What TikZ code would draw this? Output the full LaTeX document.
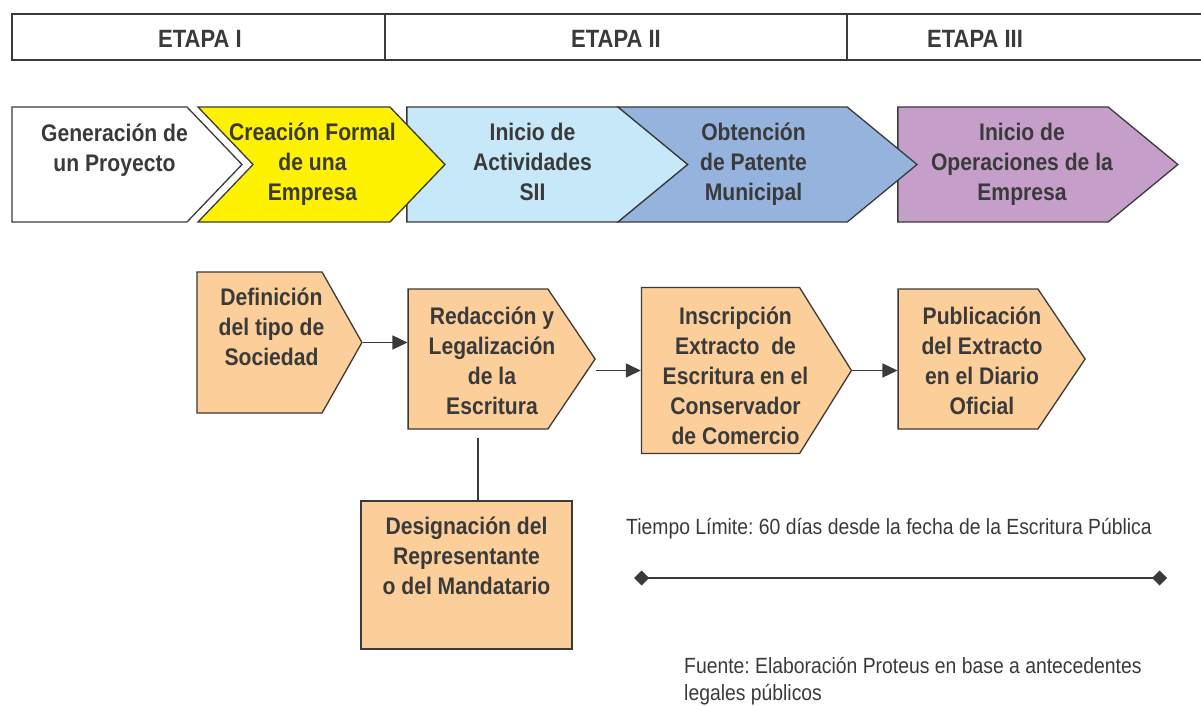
\documentclass[tikz,border=0pt]{standalone}
\usepackage{fontspec}
\newfontfamily\boxfont{Liberation Sans}[FakeStretch=0.88]
\usetikzlibrary{shapes.symbols,arrows.meta,positioning}

\definecolor{inkgray}{HTML}{3A3A3A}
\definecolor{crearyellow}{HTML}{FFF200}
\definecolor{siiblue}{HTML}{C6E8F8}
\definecolor{patblue}{HTML}{95B3DD}
\definecolor{opviolet}{HTML}{C59FC9}
\definecolor{pasoorange}{HTML}{FCCF9A}

% texto centrado, corrido #1 a la derecha
\newcommand{\rotulo}[2]{\begin{tabular}{@{\hspace{#1}}c@{\hspace{-#1}}}#2\end{tabular}}

\begin{document}
\frenchspacing
\begin{tikzpicture}[
    x=1pt, y=-1pt,
    every node/.style={text=inkgray},
    bigtxt/.style={font=\boxfont\bfseries\fontsize{24}{30}\selectfont},
    nota/.style={font=\boxfont\fontsize{22}{27}\selectfont, inner sep=0pt, align=left},
    etapa/.style={font=\boxfont\bfseries\fontsize{25}{30}\selectfont, inner sep=0pt},
    chevron/.style={signal, signal to=east, draw=inkgray, line width=1.3pt,
      inner sep=0pt, minimum height=115pt, bigtxt},
    paso/.style={chevron, fill=pasoorange},
    pasobox/.style={rectangle, draw=inkgray, fill=pasoorange, line width=1.3pt,
      inner sep=0pt, align=center, bigtxt},
    flecha/.style={draw=inkgray, line width=1.5pt, -{Triangle[length=15pt,width=14pt]}},
    enlace/.style={draw=inkgray, line width=1.5pt},
    plazo/.style={draw=inkgray, line width=1.5pt,
      {Diamond[length=15pt,width=15pt]}-{Diamond[length=15pt,width=15pt]}}
  ]
    \useasboundingbox (0,0) rectangle (1201,706);

    % Barra de etapas
    \draw[inkgray, line width=2pt] (1201,14) -- (12,14) -- (12,60) -- (1201,60);
    \draw[inkgray, line width=1.5pt] (385,14) -- (385,60);
    \draw[inkgray, line width=1.5pt] (847,14) -- (847,60);
    \node[etapa] (etapaI) at (200,39) {ETAPA I};
    \node[etapa] (etapaII) at (616,39) {ETAPA II};
    \node[etapa] (etapaIII) at (975,39) {ETAPA III};

    % Fila de procesos
    \node[chevron, fill=siiblue, signal pointer angle=79, minimum width=281pt]
      (sii) at (512.5,164.5) {\rotulo{20pt}{Inicio de\\Actividades\\SII}};
    \node[chevron, fill=opviolet, signal pointer angle=79, minimum width=280pt]
      (opera) at (1003,164.5) {\rotulo{19pt}{Inicio de\\Operaciones de la\\Empresa}};
    \node[chevron, fill=white, signal pointer angle=92.5, minimum width=230pt]
      (gen) at (99.5,164.5) {\rotulo{15pt}{Generación de\\un Proyecto\\[-2pt]\mbox{}}};
    \node[chevron, fill=crearyellow, signal from=west, signal pointer angle=92.5,
      inner xsep=-16pt, minimum width=247pt]
      (crear) at (321.5,164.5) {\rotulo{-9pt}{Creación Formal\\de una\\Empresa}};
    \node[chevron, fill=patblue, signal from=west, signal pointer angle=79, minimum width=299pt]
      (patente) at (767.5,164.5) {\rotulo{-14pt}{Obtención\\de Patente\\Municipal}};

    % Pasos de la creacion formal
    \node[paso, signal pointer angle=121, minimum height=141pt, minimum width=165pt]
      (tipo) at (259.5,342.5) {\rotulo{12pt}{Definición\\del tipo de\\Sociedad\\[-3pt]\mbox{}}};
    \node[paso, signal pointer angle=112, minimum height=140pt, minimum width=187pt]
      (escritura) at (478,359) {\rotulo{14pt}{\mbox{}\\[-22pt]Redacción y\\Legalización\\de la\\Escritura}};
    \node[paso, signal pointer angle=116, minimum height=165pt, minimum width=210pt]
      (inscripcion) at (720.5,370.5) {\rotulo{15pt}{\mbox{}\\[-14pt]Inscripción\\Extracto~ de\\Escritura en el\\Conservador\\de Comercio}};
    \node[paso, signal pointer angle=112, minimum height=140pt, minimum width=187pt]
      (publicacion) at (968,359) {\rotulo{14pt}{\mbox{}\\[-22pt]Publicación\\del Extracto\\en el Diario\\Oficial}};
    \node[pasobox, minimum width=211pt, minimum height=148pt]
      (mandatario) at (466.5,575) {Designación del\\Representante\\o del Mandatario\\[8pt]\mbox{}};

    \draw[flecha] (tipo.east) -- (tipo.east -| escritura.west);
    \draw[flecha] (escritura.east |- inscripcion) -- (inscripcion.west);
    \draw[flecha] (inscripcion.east) -- (inscripcion.east -| publicacion.west);
    \draw[enlace, shorten <=8pt] (escritura.south) -- (escritura.south |- mandatario.north);

    % Plazo legal
    \node[nota, anchor=west] (limite) at (626,529) {Tiempo Límite: 60 días desde la fecha de la Escritura Pública};
    \coordinate (plazoIni) at (634,578);
    \coordinate (plazoFin) at (1167,578);
    \draw[plazo] (plazoIni) -- (plazoFin);

    \node[nota, anchor=north west] (fuente) at (684,657) {Fuente: Elaboración Proteus en base a antecedentes\\legales públicos};

  \end{tikzpicture}
\end{document}
